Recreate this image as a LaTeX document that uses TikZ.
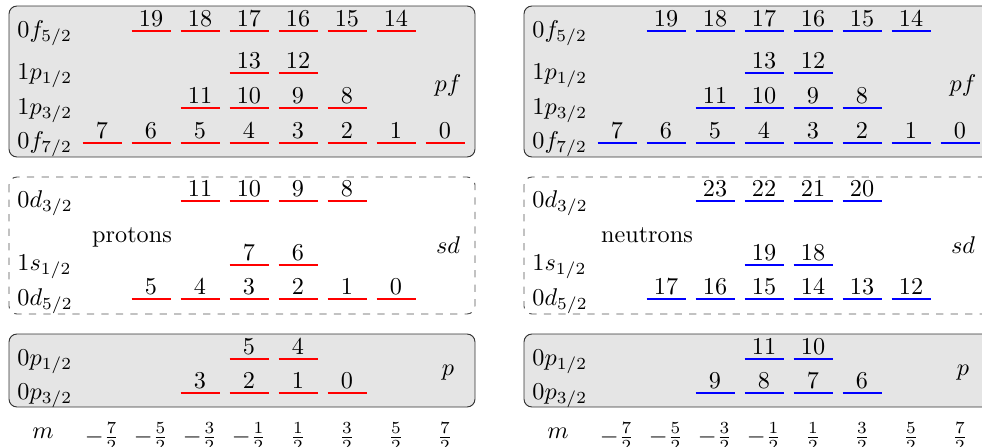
\documentclass[tikz,border=0pt]{standalone}
\usepackage{tikz}
\usetikzlibrary{positioning}
\definecolor{shellgray}{RGB}{229,229,229}
\definecolor{frameink}{RGB}{50,50,50}

% one row of m-substates: colour, y, label offset, list col/label
\newcommand{\levels}[4]{%
  \foreach \c/\lab in {#4} {\draw[lev,#1] ({102+49*\c-19.5},#2) -- ++(39,0)
    node[num,midway] {\number\numexpr\lab+#3\relax};}}

\begin{document}
\begin{tikzpicture}[x=0.413pt,y=-0.413pt,font=\normalsize,
  lev/.style={line width=0.8pt},
  num/.style={above,black,inner sep=1.5pt},
  shell/.style={anchor=base west,inner sep=0pt},
  box/.style={rounded corners=3.3pt}]
\clip (0,0) rectangle (982,447);
\foreach \dx/\col/\ds/\dp/\who in {0/red/0/0/protons,515/blue/12/6/neutrons} {
\begin{scope}[xshift=\dx*0.413pt]
% pf shell
\draw[box,fill=shellgray,draw=frameink] (9,6) rectangle (475,157);
\node[shell] at (17,37) {$0f_{5/2}$};
\node[shell] at (17,79) {$1p_{1/2}$};
\node[shell] at (17,114) {$1p_{3/2}$};
\node[shell] at (17,148) {$0f_{7/2}$};
\node[anchor=base] at (448,91) {$pf$};
\levels{\col}{31}{0}{1/19,2/18,3/17,4/16,5/15,6/14}
\levels{\col}{73}{0}{3/13,4/12}
\levels{\col}{108}{0}{2/11,3/10,4/9,5/8}
\levels{\col}{143}{0}{0/7,1/6,2/5,3/4,4/3,5/2,6/1,7/0}
% sd shell
\draw[box,dashed,draw=frameink!85] (9,177) rectangle (475,314);
\node[shell] at (17,207) {$0d_{3/2}$};
\node[shell] at (17,270) {$1s_{1/2}$};
\node[shell] at (17,305) {$0d_{5/2}$};
\node[anchor=base] at (448,253) {$sd$};
\node[anchor=base] at (132,242) {\who};
\levels{\col}{201}{\ds}{2/11,3/10,4/9,5/8}
\levels{\col}{265}{\ds}{3/7,4/6}
\levels{\col}{299}{\ds}{1/5,2/4,3/3,4/2,5/1,6/0}
% p shell
\draw[box,fill=shellgray,draw=frameink] (9,334) rectangle (475,407);
\node[shell] at (17,365) {$0p_{1/2}$};
\node[shell] at (17,399) {$0p_{3/2}$};
\node[anchor=base] at (448,375) {$p$};
\levels{\col}{359}{\dp}{3/5,4/4}
\levels{\col}{393}{\dp}{2/3,3/2,4/1,5/0}
% m axis
\node[anchor=base] at (43,438) {$m$};
\foreach \c/\n/\sg in {0/7/-,1/5/-,2/3/-,3/1/-,4/1/,5/3/,6/5/,7/7/}
  {\node at ({102+49*\c},433) {$\sg\frac{\n}{2}$};}
\end{scope}}
\end{tikzpicture}
\end{document}
